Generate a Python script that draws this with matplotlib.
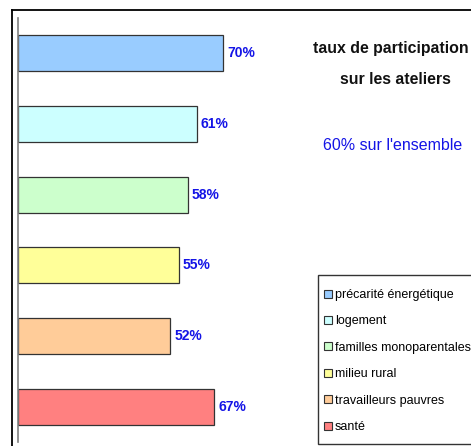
import matplotlib
matplotlib.use("Agg")
import matplotlib.pyplot as plt
from matplotlib import font_manager
from matplotlib.lines import Line2D
from matplotlib.patches import Rectangle

# police etroite si possible (le graphique d'origine est en Calibri)
police = "DejaVu Sans"
for nom in ["Liberation Sans Narrow", "Liberation Sans", "Arial"]:
    try:
        font_manager.findfont(nom, fallback_to_default=False)
        police = nom
        break
    except ValueError:
        pass
plt.rcParams['font.family'] = [police, 'DejaVu Sans']

# donnees
categories = ["précarité énergétique", "logement", "familles monoparentales",
              "milieu rural", "travailleurs pauvres", "santé"]
taux = [70, 61, 58, 55, 52, 67]
couleurs = ["#99CCFF", "#CCFFFF", "#CCFFCC", "#FFFF99", "#FFCC99", "#FF8080"]
titre1 = "taux de participation"
titre2 = "sur les ateliers"
ensemble = "60% sur l'ensemble"

W, H = 471, 446
fig = plt.figure(figsize=(W / 100, H / 100), dpi=100)
etroit = "Narrow" in police
k = 1.0 if etroit else 0.85

# axe : x de 18 a 311 px, y de 18 a 442 px
ax = fig.add_axes([18 / W, 1 - 442 / H, 293 / W, 424 / H])
pos = list(range(len(categories)))[::-1]
ax.barh(pos, taux, height=0.51, color=couleurs, edgecolor="#333333", linewidth=0.9)
for p, v in zip(pos, taux):
    ax.text(v + 1.3, p, f"{v}%", va="center", ha="left", color="#1414E6",
            fontsize=11.8 * k, fontweight="bold")
ax.set_xlim(0, 100)
ax.set_ylim(-0.5, len(categories) - 0.5)
ax.set_xticks([])
ax.set_yticks([])
for s in ["top", "right", "bottom"]:
    ax.spines[s].set_visible(False)
ax.spines["left"].set_color("#808080")
ax.spines["left"].set_linewidth(1.2)
ax.patch.set_alpha(0)

# cadre exterieur
fig.add_artist(Line2D([12 / W, 12 / W], [0, 1 - 10 / H], color="black", lw=1.3))
fig.add_artist(Line2D([12 / W, 1], [1 - 10 / H, 1 - 10 / H], color="black", lw=1.3))

fig.text(391 / W, 1 - 49 / H, titre1, ha="center", va="center", fontsize=13.5 * k,
         fontweight="bold", color="#111111")
fig.text(395 / W, 1 - 80 / H, titre2, ha="center", va="center", fontsize=13.5 * k,
         fontweight="bold", color="#111111")
fig.text(393 / W, 1 - 146 / H, ensemble, ha="center", va="center",
         fontsize=13.6 * k, color="#1414E6")

# cadre de la legende
fig.add_artist(Rectangle((318 / W, 1 - 444 / H), 0.5, 169 / H, transform=fig.transFigure,
                         facecolor="white", edgecolor="#333333", lw=1.0))

handles = [Line2D([], [], ls="", marker="s", markersize=5.2, markerfacecolor=c,
                  markeredgecolor="#333333", markeredgewidth=0.8) for c in couleurs]
fs = 10.6 * k
leg = fig.legend(handles, categories, loc="upper left",
                 bbox_to_anchor=(325 / W, 1 - 289 / H), fontsize=fs,
                 handlelength=0.5, handleheight=0.7, handletextpad=0.3,
                 labelspacing=1.15, borderpad=0, borderaxespad=0, frameon=False)

fig.savefig("out.png", dpi=100)
